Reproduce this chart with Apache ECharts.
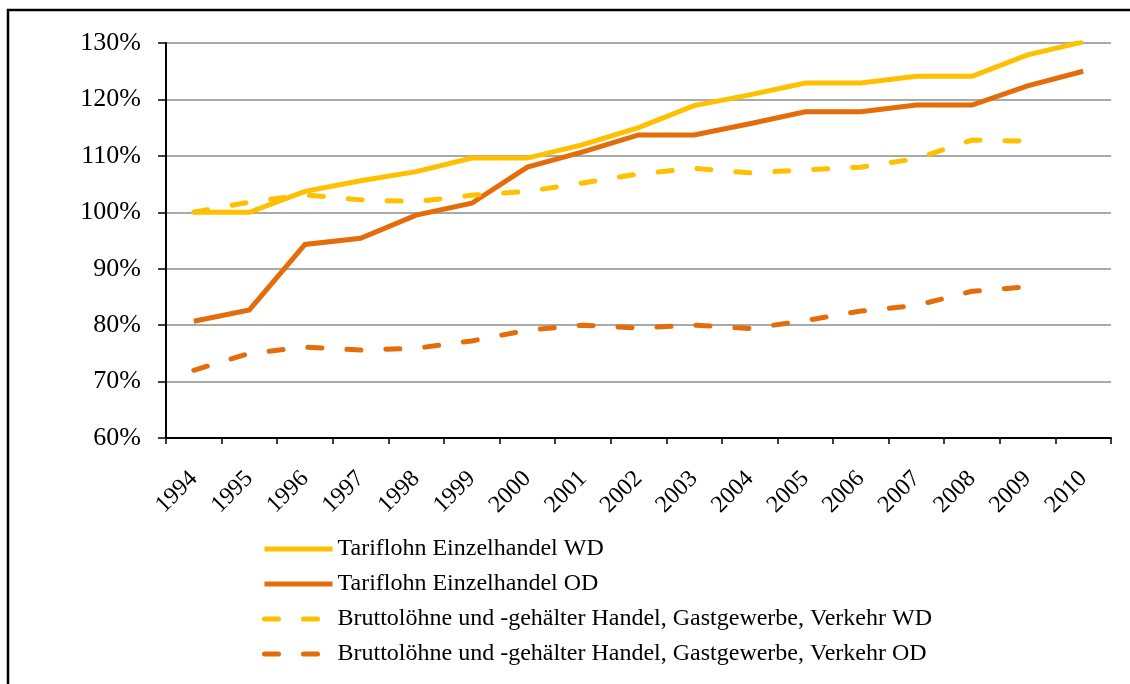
<!DOCTYPE html>
<html>
<head>
<meta charset="utf-8">
<script src="https://cdn.jsdelivr.net/npm/echarts@6/dist/echarts.min.js"></script>
<style>
  html, body { margin: 0; padding: 0; background: #fff; }
  #chart { width: 1130px; height: 684px; }
</style>
</head>
<body>
<div id="chart"></div>
<script>
// Jahre
var years = ['1994', '1995', '1996', '1997', '1998', '1999', '2000', '2001', '2002',
  '2003', '2004', '2005', '2006', '2007', '2008', '2009', '2010'];

// Werte in % (1994 WD = 100%)
var tarifWD = [100, 100, 103.7, 105.6, 107.2, 109.6, 109.6, 112.0, 115.0,
  118.9, 120.8, 122.9, 122.9, 124.1, 124.1, 127.9, 130.2];
var tarifOD = [80.7, 82.7, 94.3, 95.4, 99.5, 101.6, 108.0, 110.7, 113.7,
  113.7, 115.7, 117.8, 117.8, 119.0, 119.0, 122.4, 125.0];
var bruttoWD = [100, 101.8, 103.1, 102.2, 101.9, 103.0, 103.7, 105.2, 106.8,
  107.8, 107.0, 107.5, 108.0, 109.5, 112.8, 112.6, null];
var bruttoOD = [72.0, 75.0, 76.1, 75.6, 75.9, 77.2, 79.1, 80.0, 79.5,
  80.0, 79.4, 80.8, 82.5, 83.5, 86.0, 86.8, null];

var names = [
  'Tariflohn Einzelhandel WD',
  'Tariflohn Einzelhandel OD',
  'Bruttolöhne und -gehälter Handel, Gastgewerbe, Verkehr WD',
  'Bruttolöhne und -gehälter Handel, Gastgewerbe, Verkehr OD'
];

var gelb = '#FFC000';
var orange = '#E46C0A';
var font = "'Liberation Serif'";

function linie(name, data, color, dashed) {
  return {
    name: name,
    type: 'line',
    data: data,
    symbol: 'none',
    connectNulls: false,
    itemStyle: { color: color },
    lineStyle: {
      color: color,
      width: 5,
      type: dashed ? [14, 25] : 'solid',
      cap: dashed ? 'round' : 'butt',
      join: 'miter'
    }
  };
}

var option = {
  animation: false,
  textStyle: { fontFamily: font },
  grid: { left: 166, right: 19, top: 43, bottom: 246, containLabel: false },
  legend: {
    orient: 'vertical',
    left: 262,
    top: 537,
    padding: 0,
    itemWidth: 68,
    itemHeight: 14,
    itemGap: 11,
    data: names,
    itemStyle: { opacity: 0 },
    lineStyle: { width: 5 },
    textStyle: { fontFamily: font, fontSize: 24, color: '#000', lineHeight: 24 }
  },
  xAxis: {
    type: 'category',
    data: years,
    boundaryGap: true,
    axisLine: { lineStyle: { color: '#000', width: 2 } },
    axisTick: { show: true, length: 6, lineStyle: { color: '#000', width: 1.5 } },
    axisLabel: { rotate: 45, fontSize: 24, color: '#000', fontFamily: font, margin: 37 },
    splitLine: { show: false }
  },
  yAxis: {
    type: 'value',
    min: 60,
    max: 130,
    interval: 10,
    axisLine: { show: true, lineStyle: { color: '#000', width: 2 } },
    axisTick: { show: true, length: 8, lineStyle: { color: '#000', width: 1.5 } },
    axisLabel: { formatter: '{value}%', fontSize: 26, color: '#000', fontFamily: font, margin: 25 },
    splitLine: { show: true, lineStyle: { color: '#8c8c8c', width: 1.5 } }
  },
  series: [
    linie(names[0], tarifWD, gelb, false),
    linie(names[1], tarifOD, orange, false),
    linie(names[2], bruttoWD, gelb, true),
    linie(names[3], bruttoOD, orange, true)
  ],
  graphic: [{
    type: 'rect',
    shape: { x: 8, y: 10, width: 1200, height: 800 },
    style: { fill: 'none', stroke: '#000', lineWidth: 2.5 },
    silent: true
  }]
};

var chartDom = document.getElementById('chart');
var myChart = echarts.init(chartDom);
myChart.setOption(option);
</script>
</body>
</html>
